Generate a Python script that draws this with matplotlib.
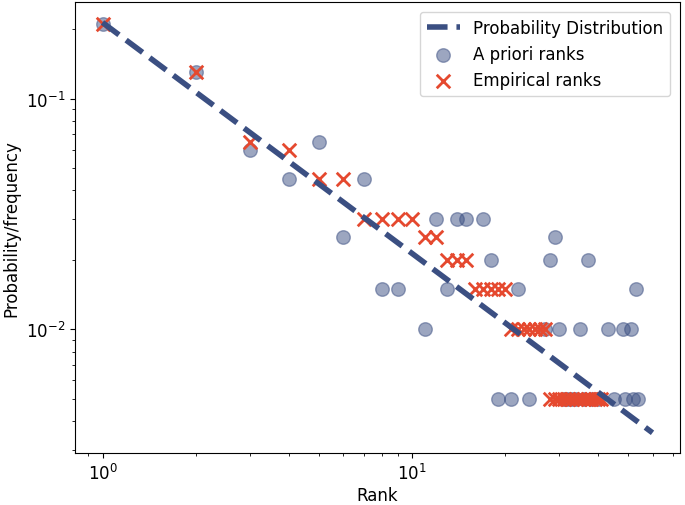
import matplotlib
matplotlib.use("Agg")
import matplotlib.pyplot as plt

# Distribution line (read endpoints from the picture)
line_ranks = [1, 60]
line_probs = [0.2137, 0.00356]

# Empirical frequencies, sorted descending (empirical rank = position)
freq = [0.21, 0.13, 0.065, 0.06, 0.045, 0.045,
        0.03, 0.03, 0.03, 0.03, 0.025, 0.025,
        0.02, 0.02, 0.02,
        0.015, 0.015, 0.015, 0.015, 0.015,
        0.01, 0.01, 0.01, 0.01, 0.01, 0.01, 0.01,
        0.005, 0.005, 0.005, 0.005, 0.005, 0.005, 0.005,
        0.005, 0.005, 0.005, 0.005, 0.005, 0.005, 0.005]
empirical_rank = list(range(1, len(freq) + 1))

# A priori rank of each item (aligned with freq)
apriori_rank = [1, 2, 5, 3, 4, 7,
                12, 14, 15, 17, 6, 29,
                18, 28, 37,
                8, 9, 13, 22, 53,
                11, 27, 30, 35, 43, 48, 51,
                19, 21, 24, 31, 32, 33, 34,
                36, 38, 40, 45, 49, 52, 54]

navy = "#3B4F82"
red = "#E5492F"

plt.rcParams["font.size"] = 12
fig = plt.figure(figsize=(6.85, 5.06), dpi=100)
ax = fig.add_axes([75/685, 1 - 454.3/506, (680 - 75)/685, (454.3 - 3)/506])

ax.plot(line_ranks, line_probs, ls="--", lw=4, color=navy, label="Probability Distribution")
ax.scatter(apriori_rank, freq, s=95, color=navy, alpha=0.5, edgecolors=navy, linewidths=1, label="A priori ranks")
ax.scatter(empirical_rank, freq, s=95, marker="x", color=red, linewidths=2, label="Empirical ranks")

ax.set_xscale("log")
ax.set_yscale("log")
ax.set_xlabel("Rank", labelpad=2)
ax.set_ylabel("Probability/frequency", labelpad=4)
ax.legend(loc="upper right", borderaxespad=0.6)

fig.savefig("out.png", dpi=100)
